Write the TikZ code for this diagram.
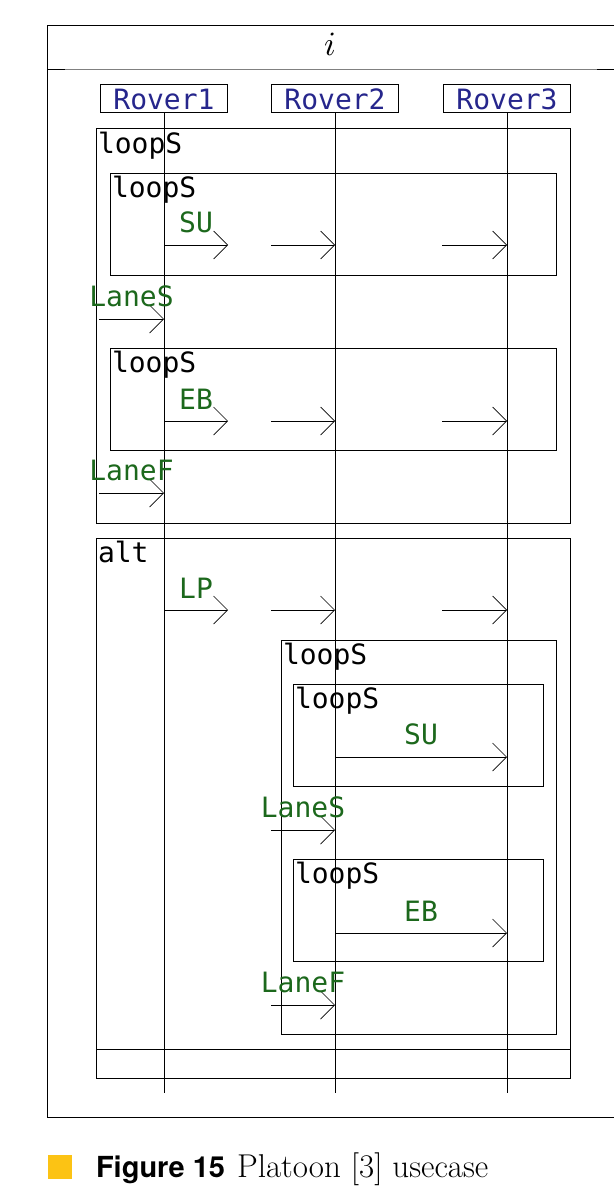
\documentclass[tikz,border=0pt]{standalone}
\usepackage{fontspec}
\newfontfamily\seqfont{DejaVu Sans Mono}
\newfontfamily\capfont{TeX Gyre Heros}
\usetikzlibrary{arrows.meta}
\definecolor{rovblue}{RGB}{38,38,140}
\definecolor{msggreen}{RGB}{28,104,28}
\definecolor{capyellow}{RGB}{252,195,20}
\tikzset{
  lifebox/.style={draw, line width=1pt, minimum width=127pt, minimum height=28pt,
    font=\seqfont\fontsize{28}{28}\selectfont, text=rovblue},
  lifeline/.style={line width=1pt},
  frame/.style={draw, line width=1pt},
  framelabel/.style={anchor=north west, inner xsep=2pt, inner ysep=3pt,
    font=\seqfont\fontsize{28}{28}\selectfont},
  msg/.style={line width=1pt, -{Straight Barb[length=14pt, width=28pt, line width=0.7pt]}},
  msglabel/.style={midway, above=12pt, font=\seqfont\fontsize{28}{28}\selectfont, text=msggreen}
}
\begin{document}
\begin{tikzpicture}[y=1pt, x=1pt, yscale=-1, inner sep=0pt, outer sep=0pt]
\useasboundingbox (0,0) rectangle (614,1204);

\draw[line width=1pt] (614,26) -- (47,26) -- (47,1117) -- (614,1117);
\draw[gray, line width=0.9pt] (47,69) -- (614,69);
\draw[line width=1pt] (47,70) -- (65,70) (597,70) -- (614,70);
\node (title) at (330,44) {\scalebox{3.4}{$i$}};

\node[lifebox] (r1) at (164,99) {Rover1};
\node[lifebox] (r2) at (335,99) {Rover2};
\node[lifebox] (r3) at (507,99) {Rover3};
\coordinate (bottom) at (0,1093);
\foreach \r in {r1,r2,r3}
  \draw[lifeline] (\r.south) -- (\r |- bottom);

% first loop
\draw[frame] (96,129) rectangle (570,523);
\node[framelabel] (loopA) at (96,129) {loopS};
\draw[frame] (110,173) rectangle (556,275);
\node[framelabel] (loopB) at (110,173) {loopS};
\draw[frame] (110,348) rectangle (556,450);
\node[framelabel] (loopC) at (110,348) {loopS};

% alt
\draw[frame] (96,538) rectangle (570,1078);
\draw[frame] (96,1049) -- (570,1049);
\node[framelabel] (altA) at (96,538) {alt};
\draw[frame] (281,640) rectangle (556,1034);
\node[framelabel] (loopD) at (281,640) {loopS};
\draw[frame] (293,684) rectangle (543,786);
\node[framelabel] (loopE) at (293,684) {loopS};
\draw[frame] (293,859) rectangle (543,961);
\node[framelabel] (loopF) at (293,859) {loopS};

\foreach \y/\txt in {245/SU, 421/EB, 610/LP}{
  \coordinate (m1) at (r1 |- 0,\y);
  \coordinate (m2) at (228,\y);
  \coordinate (m3) at (271,\y);
  \coordinate (m4) at (442,\y);
  \draw[msg] (m1) -- node[msglabel] {\txt} (m2);
  \draw[msg] (m3) -- (r2 |- m1);
  \draw[msg] (m4) -- (r3 |- m1);
}

\foreach \y/\txt in {319/LaneS, 493/LaneF}{
  \coordinate (l1) at (99,\y);
  \draw[msg] (l1) -- node[msglabel] {\txt} (r1 |- l1);
}
\foreach \y/\txt in {830/LaneS, 1005/LaneF}{
  \coordinate (l2) at (271,\y);
  \draw[msg] (l2) -- node[msglabel] {\txt} (r2 |- l2);
}
\foreach \y/\txt in {757/SU, 933/EB}{
  \coordinate (s1) at (r2 |- 0,\y);
  \draw[msg] (s1) -- node[msglabel] {\txt} (r3 |- s1);
}

\fill[capyellow] (48,1155) rectangle (72,1179);
\node[anchor=base west] (caption) at (96,1177)
  {{\capfont\bfseries\fontsize{29}{29}\selectfont Figure 15}\hspace{12pt}\fontsize{33}{33}\selectfont Platoon [3] usecase};
\end{tikzpicture}
\end{document}
